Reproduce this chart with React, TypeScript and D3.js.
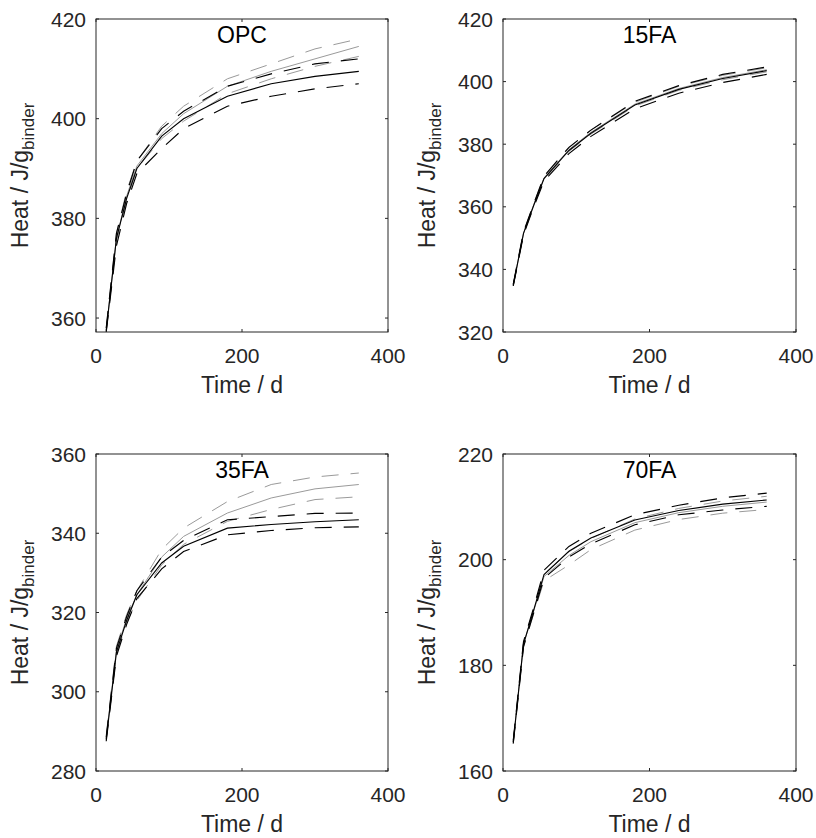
import React from "react";
import * as d3 from "d3";

// ---- data ----
const TIME = [14, 28, 42, 56, 90, 120, 180, 240, 300, 360];

const OPC_BLACK = [357.5, 376, 384, 390, 396.5, 400, 404.5, 407, 408.5, 409.5];
const OPC_BLACK_UP = [358, 377, 385, 391.5, 398, 401.5, 406.5, 409, 411, 412];
const OPC_BLACK_LO = [357.2, 374.5, 383, 389, 394, 398, 402.5, 404.5, 406, 407];
const OPC_GRAY = [357.5, 376, 384.5, 390.5, 397, 401, 406.5, 409.5, 412, 414.5];
const OPC_GRAY_UP = [358, 377, 385.5, 391.5, 398.5, 402.5, 408, 411, 414, 416];
const OPC_GRAY_LO = [357.2, 375.5, 383.5, 390, 396, 399.5, 405, 408, 410.5, 412.5];

const FA15_BLACK = [335, 351.5, 360.5, 369, 378, 383.5, 392.5, 397.5, 401, 403.5];
const FA15_BLACK_UP = [335.3, 352, 361, 369.8, 379, 384.5, 393.7, 398.7, 402.3, 404.7];
const FA15_BLACK_LO = [334.7, 351, 360, 368.2, 377, 382.5, 391.3, 396.3, 399.7, 402.3];
const FA15_GRAY = [335, 351.5, 360.7, 369.2, 378.3, 383.8, 392.8, 397.8, 401.3, 403.8];
const FA15_GRAY_UP = [335.2, 351.8, 361.1, 369.7, 378.9, 384.5, 393.4, 398.5, 402, 404.4];
const FA15_GRAY_LO = [334.8, 351.2, 360.3, 368.7, 377.7, 383.2, 392.2, 397.2, 400.6, 403.1];

const FA35_BLACK = [288, 310, 318, 324.5, 332.5, 336.7, 341.3, 342.2, 342.9, 343.4];
const FA35_BLACK_UP = [288.5, 311, 319, 325.5, 334, 338.2, 343.4, 344.2, 345, 345.1];
const FA35_BLACK_LO = [287.5, 309, 317, 323.5, 331, 335.4, 339.6, 340.7, 341.4, 341.6];
const FA35_GRAY = [288.5, 310.5, 318.5, 324.5, 334, 339.2, 345.1, 348.9, 351.2, 352.3];
const FA35_GRAY_UP = [289, 311.5, 319.5, 325.5, 335.9, 341.3, 348, 352.3, 354.2, 355.2];
const FA35_GRAY_LO = [288, 309.5, 317.5, 323, 332, 337.2, 343, 346, 348.5, 349.2];

const FA70_BLACK = [165.5, 184, 190.5, 197.2, 201.6, 204.1, 207.5, 209.3, 210.5, 211.3];
const FA70_BLACK_UP = [165.8, 184.5, 191, 198, 202.5, 205, 208.5, 210.3, 211.7, 212.6];
const FA70_BLACK_LO = [165.2, 183.5, 190, 196.5, 200.5, 203, 206.6, 208.5, 209.4, 210.1];
const FA70_GRAY = [165.5, 184, 190.3, 196.8, 200.8, 203.4, 207, 208.9, 210.1, 210.9];
const FA70_GRAY_UP = [165.7, 184.3, 190.7, 197.3, 201.5, 204, 207.7, 209.7, 211.1, 212];
const FA70_GRAY_LO = [165.2, 183.5, 189.8, 196, 199, 201.9, 205.6, 207.6, 208.8, 209.5];

const PANEL_TITLES = ["OPC", "15FA", "35FA", "70FA"];
const X_TICKS = [0, 200, 400];
const OPC_Y_TICKS = [360, 380, 400, 420];
const FA15_Y_TICKS = [320, 340, 360, 380, 400, 420];
const FA35_Y_TICKS = [280, 300, 320, 340, 360];
const FA70_Y_TICKS = [160, 180, 200, 220];

// ---- layout ----
const FONT = "'Liberation Sans', Arial, Helvetica, sans-serif";
const AX = "#262626";
const GRAY = "#9a9a9a";
const DASH = "17,12";

type Series = { vals: number[]; color: string; dashed: boolean; width: number };

type PanelProps = {
  id: string;
  left: number;
  right: number;
  top: number;
  bottom: number;
  yDomain: [number, number];
  yTicks: number[];
  title: string;
  series: Series[];
};

function Panel({ id, left, right, top, bottom, yDomain, yTicks, title, series }: PanelProps) {
  const x = d3.scaleLinear().domain([0, 400]).range([left, right]);
  const y = d3.scaleLinear().domain(yDomain).range([bottom, top]);
  const line = d3
    .line<number>()
    .x((_, i) => x(TIME[i]))
    .y((v) => y(v));
  const tl = 3;
  const cx = (left + right) / 2;
  const cy = (top + bottom) / 2;
  return (
    <g>
      <defs>
        <clipPath id={id}>
          <rect x={left} y={top} width={right - left} height={bottom - top} />
        </clipPath>
      </defs>
      <g clipPath={`url(#${id})`}>
        {series.map((s, i) => (
          <path
            key={i}
            d={line(s.vals) || ""}
            fill="none"
            stroke={s.color}
            strokeWidth={s.width}
            strokeDasharray={s.dashed ? DASH : undefined}
          />
        ))}
      </g>
      <rect x={left} y={top} width={right - left} height={bottom - top} fill="none" stroke={AX} strokeWidth={1} />
      {X_TICKS.map((t) => (
        <g key={"x" + t}>
          <line x1={x(t)} x2={x(t)} y1={bottom} y2={bottom - tl} stroke={AX} />
          <line x1={x(t)} x2={x(t)} y1={top} y2={top + tl} stroke={AX} />
          <text x={x(t)} y={bottom + 31} textAnchor="middle" fontSize={21} fill={AX} fontFamily={FONT}>
            {t}
          </text>
        </g>
      ))}
      {yTicks.map((t) => (
        <g key={"y" + t}>
          <line x1={left} x2={left + tl} y1={y(t)} y2={y(t)} stroke={AX} />
          <line x1={right} x2={right - tl} y1={y(t)} y2={y(t)} stroke={AX} />
          <text x={left - 10} y={y(t) + 7.5} textAnchor="end" fontSize={21} fill={AX} fontFamily={FONT}>
            {t}
          </text>
        </g>
      ))}
      <text x={cx} y={top + 24} textAnchor="middle" fontSize={23} fill="#000" fontFamily={FONT}>
        {title}
      </text>
      <text x={cx} y={bottom + 61} textAnchor="middle" fontSize={23} fill={AX} fontFamily={FONT}>
        Time / d
      </text>
      <text
        transform={`translate(${left - 68},${cy}) rotate(-90)`}
        textAnchor="middle"
        fontSize={23}
        fill={AX}
        fontFamily={FONT}
      >
        Heat / J/g
        <tspan fontSize={17} dy={6}>binder</tspan>
      </text>
    </g>
  );
}

function mk(b: number[], bu: number[], bl: number[], g: number[], gu: number[], gl: number[]): Series[] {
  return [
    { vals: gu, color: GRAY, dashed: true, width: 1 },
    { vals: gl, color: GRAY, dashed: true, width: 1 },
    { vals: g, color: GRAY, dashed: false, width: 1 },
    { vals: bu, color: "#000", dashed: true, width: 1.15 },
    { vals: bl, color: "#000", dashed: true, width: 1.15 },
    { vals: b, color: "#000", dashed: false, width: 1.15 },
  ];
}

export default function App() {
  const L1 = 96, R1 = 388, L2 = 503, R2 = 796;
  const T1 = 19, B1 = 332, T2 = 454, B2 = 771;
  return (
    <svg
      width={816}
      height={838}
      style={{ position: "absolute", left: 0, top: 0, background: "#fff" }}
    >
      <rect x={0} y={0} width={816} height={838} fill="#fff" />
      <Panel
        id="c1"
        left={L1}
        right={R1}
        top={T1}
        bottom={B1}
        yDomain={[357.2, 420]}
        yTicks={OPC_Y_TICKS}
        title={PANEL_TITLES[0]}
        series={mk(OPC_BLACK, OPC_BLACK_UP, OPC_BLACK_LO, OPC_GRAY, OPC_GRAY_UP, OPC_GRAY_LO)}
      />
      <Panel
        id="c2"
        left={L2}
        right={R2}
        top={T1}
        bottom={B1}
        yDomain={[320, 420]}
        yTicks={FA15_Y_TICKS}
        title={PANEL_TITLES[1]}
        series={mk(FA15_BLACK, FA15_BLACK_UP, FA15_BLACK_LO, FA15_GRAY, FA15_GRAY_UP, FA15_GRAY_LO)}
      />
      <Panel
        id="c3"
        left={L1}
        right={R1}
        top={T2}
        bottom={B2}
        yDomain={[280, 360]}
        yTicks={FA35_Y_TICKS}
        title={PANEL_TITLES[2]}
        series={mk(FA35_BLACK, FA35_BLACK_UP, FA35_BLACK_LO, FA35_GRAY, FA35_GRAY_UP, FA35_GRAY_LO)}
      />
      <Panel
        id="c4"
        left={L2}
        right={R2}
        top={T2}
        bottom={B2}
        yDomain={[160, 220]}
        yTicks={FA70_Y_TICKS}
        title={PANEL_TITLES[3]}
        series={mk(FA70_BLACK, FA70_BLACK_UP, FA70_BLACK_LO, FA70_GRAY, FA70_GRAY_UP, FA70_GRAY_LO)}
      />
    </svg>
  );
}
